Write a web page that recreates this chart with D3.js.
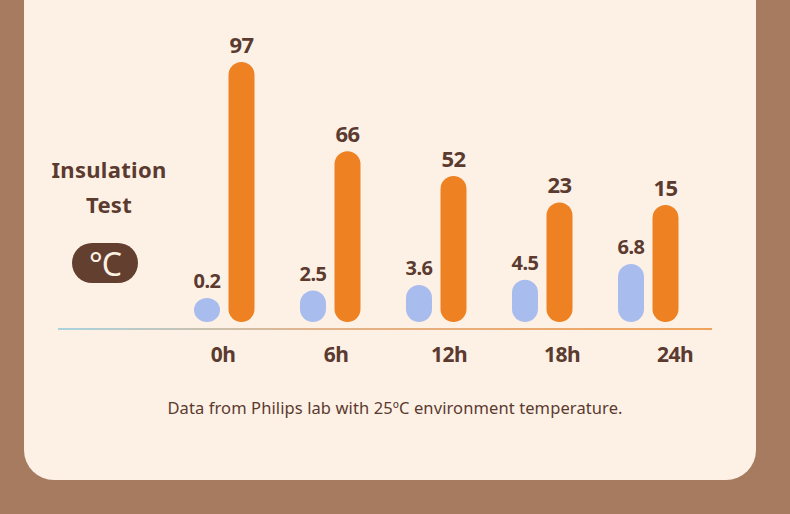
<!DOCTYPE html>
<html>
<head>
<meta charset="utf-8">
<script src="https://cdn.jsdelivr.net/npm/d3@7"></script>
<style>
    html, body { margin: 0; padding: 0; background: #a67b5f; }
    svg { display: block; }
</style>
</head>
<body>
<svg id="chart" width="790" height="514"></svg>
<script>
// chart data
const hours = ['0h', '6h', '12h', '18h', '24h'];
const blueValues = [0.2, 2.5, 3.6, 4.5, 6.8];
const orangeValues = [97, 66, 52, 23, 15];
const seriesKeys = ['blue', 'orange'];

const title = ['Insulation', 'Test'];
const unitLabel = '°C';
const footnote = 'Data from Philips lab with 25ºC environment temperature.';

const colors = {
    bg: '#a67b5f',
    card: '#fdf1e6',
    text: '#5b3a2f',
    badge: '#623f2e',
    blue: '#a9bcee',
    orange: '#ee8122'
};

const width = 790,
    height = 514,
    baseY = 322,
    barWidth = 26;

const svg = d3.select('#chart');

/**
 *
 * draw background card
 *
 * @param {d3.Selection} svg
 */
const drawCard = (svg) => {
    svg.append('rect')
        .attr('width', width)
        .attr('height', height)
        .attr('fill', colors.bg);

    svg.append('rect')
        .attr('x', 24)
        .attr('y', -40)
        .attr('width', 732)
        .attr('height', 520)
        .attr('rx', 30)
        .attr('fill', colors.card);
};

drawCard(svg);

// scales
const x = d3.scaleBand()
    .domain(hours)
    .range([171, 701]);

const xInner = d3.scaleBand()
    .domain(seriesKeys)
    .range([23, 83.5])
    .paddingInner(0.246);

const xLabel = d3.scalePoint()
    .domain(hours)
    .range([223, 675]);

// each series has its own visual scale, like the original infographic
const yBlue = d3.scalePow()
    .exponent(1.5)
    .domain(d3.extent(blueValues))
    .range([298, 264]);

const yOrange = d3.scalePow()
    .exponent(2.5)
    .domain(d3.extent(orangeValues))
    .range([205, 62]);

const series = [
    { key: 'blue', values: blueValues, y: yBlue, fill: colors.blue, fontSize: 20, gap: 10 },
    { key: 'orange', values: orangeValues, y: yOrange, fill: colors.orange, fontSize: 22, gap: 9 }
];

// baseline gradient
const defs = svg.append('defs');
const grad = defs.append('linearGradient')
    .attr('id', 'baseGrad')
    .attr('x1', '0%').attr('x2', '100%');
grad.append('stop').attr('offset', '0%').attr('stop-color', '#a8d3e0');
grad.append('stop').attr('offset', '40%').attr('stop-color', '#e3b38a');
grad.append('stop').attr('offset', '100%').attr('stop-color', '#f0a35c');

svg.append('rect')
    .attr('x', 58)
    .attr('y', 328)
    .attr('width', 654)
    .attr('height', 2)
    .attr('fill', 'url(#baseGrad)');

// bars and value labels
series.forEach(s => {
    const g = svg.append('g').attr('class', 'series-' + s.key);

    g.selectAll('rect')
        .data(s.values)
        .join('rect')
        .attr('x', (d, i) => x(hours[i]) + xInner(s.key))
        .attr('y', d => s.y(d))
        .attr('width', barWidth)
        .attr('height', d => baseY - s.y(d))
        .attr('rx', barWidth / 2)
        .attr('fill', s.fill);

    g.selectAll('text')
        .data(s.values)
        .join('text')
        .attr('x', (d, i) => x(hours[i]) + xInner(s.key) + barWidth / 2)
        .attr('y', d => s.y(d) - s.gap)
        .attr('text-anchor', 'middle')
        .attr('font-family', '"Noto Sans", sans-serif')
        .attr('font-weight', 700)
        .attr('font-size', s.fontSize)
        .attr('letter-spacing', -0.5)
        .attr('fill', colors.text)
        .text(d => d);
});

// category labels
svg.append('g')
    .selectAll('text')
    .data(hours)
    .join('text')
    .attr('x', d => xLabel(d))
    .attr('y', 362)
    .attr('text-anchor', 'middle')
    .attr('font-family', '"Noto Sans", sans-serif')
    .attr('font-weight', 700)
    .attr('font-size', 21)
    .attr('letter-spacing', -0.5)
    .attr('fill', colors.text)
    .text(d => d);

// title block
svg.append('g')
    .selectAll('text')
    .data(title)
    .join('text')
    .attr('x', 109)
    .attr('y', (d, i) => 178 + i * 35)
    .attr('text-anchor', 'middle')
    .attr('font-family', '"Noto Sans", sans-serif')
    .attr('font-weight', 700)
    .attr('font-size', 22)
    .attr('letter-spacing', 0.3)
    .attr('fill', colors.text)
    .text(d => d);

svg.append('rect')
    .attr('x', 72)
    .attr('y', 243)
    .attr('width', 66)
    .attr('height', 40)
    .attr('rx', 20)
    .attr('fill', colors.badge);

svg.append('text')
    .attr('x', 105)
    .attr('y', 276)
    .attr('text-anchor', 'middle')
    .attr('font-family', '"Noto Sans", sans-serif')
    .attr('font-weight', 400)
    .attr('font-size', 32)
    .attr('letter-spacing', -1)
    .attr('fill', colors.card)
    .text(unitLabel);

// footnote
svg.append('text')
    .attr('x', 395)
    .attr('y', 414)
    .attr('text-anchor', 'middle')
    .attr('font-family', '"Noto Sans", sans-serif')
    .attr('font-size', 16.5)
    .attr('letter-spacing', 0.1)
    .attr('fill', colors.text)
    .text(footnote);
</script>
</body>
</html>
